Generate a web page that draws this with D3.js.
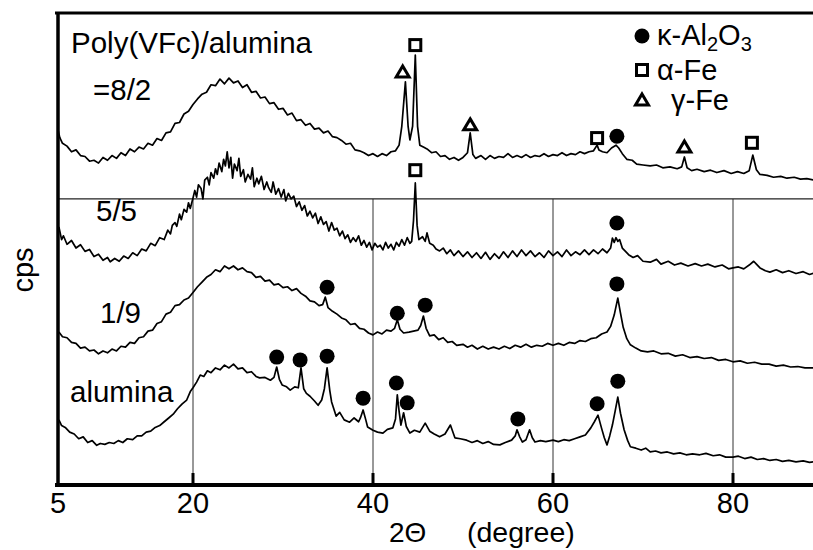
<!DOCTYPE html>
<html>
<head>
<meta charset="utf-8">
<style>
	body { margin: 0; background: #fff; }
	svg text { font-family: "Liberation Sans", Arial, sans-serif; fill: #000; }
</style>
<script src="https://cdn.jsdelivr.net/npm/d3@7/dist/d3.min.js"></script>
</head>
<body>
<div id="chart"></div>
<script>
// XRD patterns: [2theta, cps]
var trace82 = [[5.0,75.2],[5.2,73.6],[5.5,72.4],[6.0,71.8],[6.5,70.6],[7.0,71.0],[7.5,69.8],[8.0,69.6],[8.5,68.6],[9.0,68.8],[9.5,68.2],[10.0,69.4],[10.5,68.8],[11.0,69.8],[11.5,69.2],[12.0,70.4],[12.5,69.8],[13.0,71.2],[13.5,70.6],[14.0,71.6],[14.5,71.2],[15.0,72.4],[15.5,72.0],[16.0,73.4],[16.5,73.0],[17.0,74.6],[17.5,74.8],[18.0,76.6],[18.5,76.8],[19.0,78.6],[19.5,79.2],[20.0,80.6],[20.5,81.8],[21.0,82.8],[21.5,83.2],[22.0,84.8],[22.5,84.6],[23.0,86.0],[23.5,85.0],[24.0,86.2],[24.5,85.2],[25.0,85.6],[25.5,84.2],[26.0,84.8],[26.5,83.2],[27.0,83.4],[27.5,82.0],[28.0,82.2],[28.5,80.8],[29.0,81.0],[29.5,79.6],[30.0,79.8],[30.5,78.4],[31.0,78.8],[31.5,77.2],[32.0,77.4],[32.5,76.2],[33.0,76.6],[33.5,75.4],[34.0,75.6],[34.5,74.6],[35.0,75.0],[35.5,73.8],[36.0,73.6],[36.5,73.0],[37.0,72.2],[37.5,72.4],[38.0,71.0],[38.5,70.8],[39.0,70.4],[39.5,69.8],[40.0,70.2],[40.5,69.6],[41.0,70.2],[41.5,69.8],[42.0,70.6],[42.5,70.8],[42.9,72.0],[43.2,76.0],[43.6,85.4],[43.9,76.0],[44.1,73.1],[44.4,76.0],[44.7,91.1],[44.95,76.0],[45.2,72.0],[45.6,71.6],[46.0,71.2],[46.5,70.4],[47.0,70.6],[47.5,69.6],[48.0,69.8],[48.5,69.0],[49.0,69.4],[49.5,68.8],[50.0,69.4],[50.5,70.4],[50.8,74.6],[51.1,70.0],[51.4,69.2],[52.0,69.8],[52.5,69.0],[53.0,69.8],[53.5,69.2],[54.0,69.6],[54.5,69.4],[55.0,70.2],[55.5,69.4],[56.0,69.8],[56.5,69.4],[57.0,70.0],[57.5,69.4],[58.0,69.8],[58.5,69.6],[59.0,70.2],[59.5,69.6],[60.0,70.0],[60.5,69.8],[61.0,70.4],[61.5,69.8],[62.0,70.2],[62.5,70.0],[63.0,70.6],[63.5,70.2],[64.0,70.6],[64.5,70.8],[64.9,72.0],[65.1,71.0],[65.5,70.6],[66.0,70.4],[66.5,71.4],[67.0,72.0],[67.3,71.4],[67.7,70.2],[68.2,69.0],[68.8,68.8],[69.3,68.0],[70.0,67.8],[70.8,67.6],[71.5,67.8],[72.2,67.2],[73.0,67.4],[73.8,67.0],[74.3,67.4],[74.6,69.5],[74.9,67.2],[75.4,66.6],[76.0,66.9],[76.8,66.4],[77.5,66.7],[78.2,66.2],[79.0,66.6],[79.8,66.0],[80.5,66.4],[81.2,66.0],[81.8,66.6],[82.2,69.9],[82.6,66.8],[83.0,65.8],[83.8,65.6],[84.5,65.2],[85.3,65.4],[86.0,65.0],[86.8,65.2],[87.5,64.8],[88.2,64.9],[89.0,64.6]];

var trace55 = [[5.1,54.7],[5.4,52.0],[5.6,52.8],[6.0,51.0],[6.5,51.8],[7.0,50.2],[7.5,50.9],[8.0,49.5],[8.5,49.9],[9.0,48.4],[9.5,48.9],[10.0,47.6],[10.5,48.2],[10.8,47.3],[11.3,48.0],[11.8,47.4],[12.3,48.5],[12.8,48.0],[13.3,49.2],[13.8,48.6],[14.3,50.0],[14.8,49.6],[15.3,51.2],[15.8,50.7],[16.3,52.4],[16.8,52.0],[17.2,54.0],[17.5,53.2],[17.7,55.0],[18.0,55.6],[18.2,54.8],[18.5,57.4],[18.7,56.2],[19.0,58.4],[19.3,57.8],[19.5,59.8],[19.7,58.6],[20.0,60.8],[20.2,62.4],[20.4,61.0],[20.6,63.6],[20.9,62.8],[21.1,60.6],[21.3,64.6],[21.6,65.2],[21.8,63.6],[22.0,66.2],[22.3,65.0],[22.5,67.0],[22.7,65.8],[22.9,68.2],[23.2,66.4],[23.4,69.0],[23.6,67.6],[23.8,70.6],[24.0,67.2],[24.2,69.4],[24.4,65.0],[24.6,68.0],[24.9,66.6],[25.1,69.2],[25.3,65.4],[25.6,66.8],[25.8,64.2],[26.1,65.8],[26.4,64.8],[26.6,67.2],[26.8,63.2],[27.1,65.0],[27.3,63.8],[27.6,65.4],[27.9,62.6],[28.2,64.2],[28.4,63.0],[28.7,62.0],[28.9,64.2],[29.2,61.6],[29.5,62.8],[29.8,61.0],[30.1,62.6],[30.3,60.2],[30.6,61.8],[30.9,60.6],[31.2,61.2],[31.5,59.0],[31.8,60.0],[32.1,58.2],[32.4,59.2],[32.7,57.0],[33.0,58.0],[33.3,56.6],[33.6,57.6],[33.9,55.4],[34.2,56.8],[34.5,55.2],[34.8,55.8],[35.1,53.8],[35.4,55.6],[35.7,54.0],[36.0,54.4],[36.3,52.8],[36.6,53.8],[36.9,52.2],[37.2,53.0],[37.5,51.4],[37.8,52.4],[38.1,51.6],[38.4,52.8],[38.7,50.8],[39.0,51.8],[39.3,50.4],[39.6,51.4],[39.9,49.8],[40.2,51.2],[40.5,50.4],[40.8,50.8],[41.1,49.8],[41.4,51.4],[41.7,50.2],[42.0,51.0],[42.3,49.8],[42.6,51.4],[42.9,50.6],[43.2,52.0],[43.5,50.8],[43.8,52.4],[44.1,51.2],[44.3,51.6],[44.5,56.0],[44.7,64.0],[44.9,55.0],[45.1,52.0],[45.5,52.6],[45.8,51.6],[46.0,53.4],[46.3,51.2],[46.7,50.8],[47.0,50.0],[47.4,49.6],[47.8,50.2],[48.2,49.0],[48.6,49.8],[49.0,48.6],[49.5,49.6],[50.0,48.4],[50.5,49.4],[51.0,48.2],[51.5,49.2],[52.0,48.0],[52.5,49.3],[53.0,47.8],[53.5,49.0],[54.0,48.0],[54.5,49.4],[55.0,48.2],[55.5,49.6],[56.0,48.4],[56.5,49.8],[57.0,48.6],[57.5,49.6],[58.0,48.4],[58.5,49.2],[59.0,48.2],[59.5,49.6],[60.0,48.6],[60.5,49.4],[61.0,48.4],[61.5,49.8],[62.0,48.6],[62.5,49.4],[63.0,48.8],[63.5,49.8],[64.0,48.8],[64.5,49.8],[65.0,49.0],[65.5,50.0],[66.0,49.2],[66.4,50.2],[66.6,52.3],[66.8,51.4],[67.0,52.4],[67.2,51.6],[67.4,52.0],[67.7,50.2],[68.0,49.6],[68.4,48.8],[68.9,48.2],[69.4,48.6],[70.0,47.4],[70.8,47.2],[71.5,47.8],[72.0,46.8],[72.8,47.4],[73.5,46.6],[74.2,47.0],[75.0,46.4],[75.8,46.9],[76.5,46.4],[77.2,46.8],[78.0,46.2],[78.8,46.6],[79.5,45.8],[80.0,46.0],[80.6,46.2],[81.2,45.8],[81.8,46.6],[82.3,47.4],[82.6,46.8],[83.0,46.0],[83.6,45.4],[84.1,45.1],[84.8,45.6],[85.5,45.0],[86.2,45.4],[87.0,44.8],[87.8,45.2],[88.5,44.6],[89.0,44.9]];

var trace19 = [[5.1,32.4],[5.5,31.4],[6.0,31.2],[6.5,30.2],[7.0,30.0],[7.5,29.0],[8.0,29.2],[8.5,28.4],[9.0,28.6],[9.5,27.8],[10.0,28.4],[10.5,28.0],[11.0,28.8],[11.5,28.4],[12.0,29.4],[12.5,29.2],[13.0,30.2],[13.5,30.0],[14.0,31.2],[14.5,31.4],[15.0,32.6],[15.5,32.8],[16.0,34.2],[16.5,34.6],[17.0,36.2],[17.5,36.6],[18.0,38.0],[18.5,38.2],[19.0,39.2],[19.5,39.6],[20.0,40.8],[20.5,42.0],[21.0,43.0],[21.5,44.0],[22.0,44.6],[22.5,45.6],[23.0,45.2],[23.5,46.4],[24.0,45.8],[24.5,46.4],[25.0,45.6],[25.5,46.0],[26.0,45.2],[26.5,45.0],[27.0,44.0],[27.5,44.2],[28.0,43.2],[28.5,43.4],[29.0,42.4],[29.5,42.6],[30.0,41.8],[30.5,42.0],[31.0,41.2],[31.5,41.6],[32.0,40.6],[32.5,40.0],[33.0,39.0],[33.5,38.8],[34.0,38.0],[34.4,38.2],[34.7,39.8],[35.0,37.6],[35.5,36.8],[36.0,36.2],[36.5,35.4],[37.0,35.0],[37.5,34.0],[38.0,34.2],[38.5,33.2],[39.0,33.0],[39.5,32.2],[40.0,31.8],[40.5,32.4],[41.0,32.0],[41.5,32.8],[42.0,32.6],[42.4,33.2],[42.7,35.0],[43.0,33.0],[43.4,32.2],[44.0,32.4],[44.5,32.6],[45.0,32.8],[45.3,33.8],[45.6,35.8],[45.9,33.2],[46.3,31.6],[46.8,31.8],[47.3,30.8],[47.8,31.2],[48.3,30.2],[48.8,30.4],[49.3,29.6],[50.0,29.8],[50.5,29.2],[51.0,29.6],[51.6,28.8],[52.2,29.4],[52.8,28.8],[53.4,29.2],[54.0,28.8],[54.6,29.4],[55.2,28.9],[55.8,29.6],[56.4,29.2],[57.0,29.8],[57.6,29.2],[58.2,29.6],[58.8,29.4],[59.4,30.0],[60.0,29.6],[60.6,30.0],[61.2,29.6],[61.8,30.2],[62.4,30.0],[63.0,30.6],[63.6,30.4],[64.2,31.0],[64.8,31.2],[65.4,32.0],[66.0,32.4],[66.4,33.6],[66.8,36.0],[67.2,39.6],[67.5,36.4],[67.8,33.4],[68.2,31.0],[68.6,29.7],[69.2,29.0],[69.8,28.4],[70.5,28.2],[71.2,28.4],[72.0,27.8],[72.8,27.9],[73.6,27.3],[74.4,27.6],[75.2,27.0],[76.0,27.2],[76.8,26.8],[77.6,27.0],[78.4,26.4],[79.2,26.6],[80.0,26.1],[80.8,26.3],[81.6,25.8],[82.4,26.0],[83.2,25.6],[84.0,25.6],[84.8,25.2],[85.6,25.4],[86.4,25.0],[87.2,25.1],[88.0,24.8],[89.0,24.8]];

var traceAlumina = [[5.1,13.8],[5.4,12.6],[5.8,12.2],[6.3,11.2],[6.8,10.8],[7.3,9.8],[7.8,10.2],[8.3,9.0],[8.8,9.4],[9.3,8.4],[9.7,8.8],[10.2,8.6],[10.7,9.0],[11.2,8.8],[11.7,9.4],[12.2,9.0],[12.7,9.8],[13.3,9.6],[13.8,10.4],[14.3,10.4],[14.8,11.2],[15.3,11.4],[15.8,12.2],[16.3,12.6],[16.8,13.4],[17.3,14.2],[17.8,15.0],[18.3,16.2],[18.8,17.2],[19.3,18.0],[19.7,19.8],[20.0,20.6],[20.4,21.8],[20.8,23.3],[21.2,23.0],[21.6,24.2],[22.0,23.8],[22.5,24.8],[23.0,24.4],[23.5,25.4],[24.0,24.8],[24.5,25.6],[25.0,24.6],[25.5,24.8],[26.0,23.8],[26.5,24.0],[27.0,23.0],[27.4,22.7],[28.0,22.8],[28.6,22.2],[29.0,22.8],[29.3,25.0],[29.6,22.4],[29.9,21.2],[30.4,20.8],[30.8,20.1],[31.3,20.8],[31.7,20.6],[32.0,24.8],[32.3,20.4],[32.6,19.4],[33.0,18.8],[33.5,17.8],[33.9,16.9],[34.3,18.0],[34.6,20.4],[34.9,24.8],[35.2,20.0],[35.4,17.6],[35.9,14.6],[36.3,15.4],[36.8,13.8],[37.4,13.3],[37.9,14.2],[38.4,13.4],[38.6,14.2],[38.9,15.9],[39.2,13.8],[39.4,12.3],[40.0,11.6],[40.5,11.2],[41.1,11.0],[41.6,11.8],[42.2,12.1],[42.5,14.0],[42.7,19.1],[42.9,15.6],[43.1,12.7],[43.4,15.3],[43.7,12.4],[44.1,11.0],[44.6,11.6],[45.2,11.2],[45.8,13.1],[46.3,11.4],[46.8,10.8],[47.4,10.2],[48.0,10.8],[48.6,12.7],[49.1,10.0],[49.7,9.8],[50.4,9.5],[51.0,9.0],[51.6,9.4],[52.2,8.8],[52.8,9.2],[53.4,8.6],[54.1,8.5],[54.7,9.0],[55.4,9.5],[55.8,10.4],[56.0,11.7],[56.3,10.2],[56.6,9.1],[57.0,9.6],[57.4,11.7],[57.7,10.0],[58.0,9.1],[58.6,9.4],[59.2,9.2],[60.0,9.5],[60.6,9.2],[61.2,9.6],[61.8,9.4],[62.4,9.8],[63.0,10.2],[63.6,10.6],[64.2,12.1],[64.6,13.4],[65.0,14.8],[65.4,12.0],[65.7,10.0],[66.0,8.5],[66.3,10.4],[66.6,12.7],[66.9,15.6],[67.2,18.6],[67.5,15.2],[67.9,11.7],[68.3,9.4],[68.6,8.1],[69.2,7.8],[69.8,7.4],[70.3,7.8],[70.8,7.0],[71.4,7.2],[72.0,6.8],[72.7,7.0],[73.4,6.6],[74.1,6.8],[74.8,6.4],[75.5,6.6],[76.3,6.4],[77.0,6.7],[77.8,6.2],[78.5,6.4],[79.2,5.9],[80.0,5.9],[80.6,6.1],[81.3,5.6],[82.0,5.9],[82.7,5.4],[83.4,5.6],[84.1,5.2],[84.8,5.4],[85.5,5.0],[86.2,5.2],[87.0,4.9],[87.8,5.1],[88.5,4.8],[89.0,4.9]];

// phase markers [2theta, cps]
var kappaPts = [[67.1,73.9],[67.1,55.5],[34.9,41.9],[42.7,36.4],[45.8,38.1],[67.1,42.6],[29.3,27.1],[31.9,26.5],[34.9,27.3],[38.9,18.4],[42.6,21.6],[43.8,17.4],[56.1,14.0],[64.9,17.2],[67.2,22.0]];
var alphaPts = [[44.7,93.2],[64.9,73.5],[82.1,72.5],[44.7,66.7]];
var gammaPts = [[43.3,87.5],[50.8,76.3],[74.6,71.6]];

var xTicks = [5, 20, 40, 60, 80];
var xGrid = [20, 40, 60, 80];
var cpsGrid = [60.6];
var sampleLabels = [["=8/2", 93, 100], ["5/5", 96, 221], ["1/9", 100, 323], ["alumina", 70, 402]];

var W = 813, H = 550;
var plotL = 58, plotT = 13, plotB = 485;

var svg = d3.select("#chart").append("svg")
	.attr("width", W).attr("height", H);

var x = d3.scaleLinear().domain([5, 90]).range([plotL, plotL + 85 * 9]);
var y = d3.scaleLinear().domain([0, 100]).range([plotB, plotT]);

// grid
svg.selectAll(".vgrid").data(xGrid).enter().append("line")
	.attr("x1", d => x(d)).attr("x2", d => x(d))
	.attr("y1", y(cpsGrid[0])).attr("y2", plotB)
	.attr("stroke", "#333").attr("stroke-width", 1);
svg.selectAll(".hgrid").data(cpsGrid).enter().append("line")
	.attr("x1", plotL).attr("x2", W)
	.attr("y1", d => y(d)).attr("y2", d => y(d))
	.attr("stroke", "#222").attr("stroke-width", 1.2);

// frame
svg.append("line").attr("x1", plotL - 3).attr("x2", W).attr("y1", plotT).attr("y2", plotT)
	.attr("stroke", "#000").attr("stroke-width", 3);
svg.append("line").attr("x1", plotL).attr("x2", plotL).attr("y1", plotT - 1).attr("y2", plotB + 2)
	.attr("stroke", "#000").attr("stroke-width", 3.5);
svg.append("line").attr("x1", plotL - 3).attr("x2", W).attr("y1", plotB).attr("y2", plotB)
	.attr("stroke", "#000").attr("stroke-width", 4);

// inward ticks
svg.selectAll(".tick").data(xGrid).enter().append("line")
	.attr("x1", d => x(d)).attr("x2", d => x(d))
	.attr("y1", plotB - 12).attr("y2", plotB)
	.attr("stroke", "#000").attr("stroke-width", 3);

svg.selectAll(".xlab").data(xTicks).enter().append("text")
	.attr("x", d => x(d)).attr("y", 513)
	.attr("text-anchor", "middle").attr("font-size", 29)
	.text(d => d);

svg.append("text").attr("x", 389).attr("y", 542).attr("font-size", 28).text("2\u0398");
svg.append("text").attr("x", 467).attr("y", 542).attr("font-size", 28.5).text("(degree)");
svg.append("text").attr("transform", "translate(33,270) rotate(-90)")
	.attr("text-anchor", "middle").attr("font-size", 29).text("cps");

// traces
var line = d3.line().x(d => x(d[0])).y(d => y(d[1]));
[trace82, trace55, trace19, traceAlumina].forEach(function(t) {
	svg.append("path").datum(t)
		.attr("d", line)
		.attr("fill", "none").attr("stroke", "#000")
		.attr("stroke-width", 1.7).attr("stroke-linejoin", "round");
});

// labels
svg.append("text").attr("x", 71).attr("y", 53).attr("font-size", 29.5).text("Poly(VFc)/alumina");
svg.selectAll(".slab").data(sampleLabels).enter().append("text")
	.attr("x", d => d[1]).attr("y", d => d[2])
	.attr("font-size", 29.5).text(d => d[0]);

// markers
function circleMark(g, cx, cy) {
	g.append("circle").attr("cx", cx).attr("cy", cy).attr("r", 7.5).attr("fill", "#000");
}
function squareMark(g, cx, cy) {
	g.append("rect").attr("x", cx - 5.5).attr("y", cy - 5.5).attr("width", 11).attr("height", 11)
		.attr("fill", "#fff").attr("stroke", "#000").attr("stroke-width", 3);
}
function triMark(g, cx, cy) {
	g.append("path").attr("d", "M" + cx + "," + (cy - 6) + "L" + (cx + 6.5) + "," + (cy + 5) + "L" + (cx - 6.5) + "," + (cy + 5) + "Z")
		.attr("fill", "#fff").attr("stroke", "#000").attr("stroke-width", 3).attr("stroke-linejoin", "miter");
}
kappaPts.forEach(d => circleMark(svg, x(d[0]), y(d[1])));
alphaPts.forEach(d => squareMark(svg, x(d[0]), y(d[1])));
gammaPts.forEach(d => triMark(svg, x(d[0]), y(d[1])));

// legend
circleMark(svg, 642, 36);
squareMark(svg, 642, 70);
triMark(svg, 642, 100);
var k = svg.append("text").attr("x", 657).attr("y", 45).attr("font-size", 29);
k.append("tspan").text("\u03ba-Al");
k.append("tspan").attr("font-size", 20).attr("dy", 6).text("2");
k.append("tspan").attr("dy", -6).text("O");
k.append("tspan").attr("font-size", 20).attr("dy", 6).text("3");
svg.append("text").attr("x", 657).attr("y", 80).attr("font-size", 29).text("\u03b1-Fe");
svg.append("text").attr("x", 671).attr("y", 110).attr("font-size", 29).text("\u03b3-Fe");
</script>
</body>
</html>
